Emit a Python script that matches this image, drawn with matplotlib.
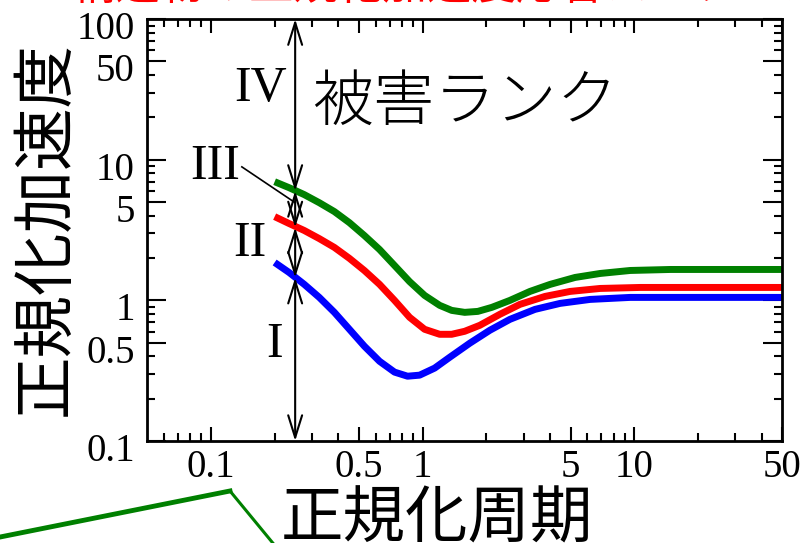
import matplotlib
matplotlib.use("Agg")
import matplotlib.pyplot as plt
from matplotlib.lines import Line2D
from matplotlib.transforms import ScaledTranslation

# normalised period vs normalised acceleration, three damage boundaries
period_green = [0.2, 0.234, 0.276, 0.325, 0.383, 0.451, 0.531, 0.626, 0.737, 0.868, 1.022,
                1.204, 1.372, 1.581, 1.823, 2.123, 2.585, 3.215, 4.0, 5.253, 6.901, 9.57,
                14.81, 25.56, 50]
accel_green = [6.98, 6.33, 5.65, 4.95, 4.28, 3.57, 2.89, 2.30, 1.77, 1.36, 1.085,
               0.922, 0.849, 0.822, 0.835, 0.892, 1.0, 1.158, 1.299, 1.456, 1.554, 1.632,
               1.659, 1.659, 1.659]

period_red = [0.2, 0.234, 0.276, 0.325, 0.383, 0.451, 0.531, 0.626, 0.737, 0.868, 1.022,
              1.204, 1.372, 1.581, 1.863, 2.317, 2.883, 3.786, 4.974, 6.901, 10.68,
              20.55, 50]
accel_red = [3.94, 3.52, 3.14, 2.75, 2.38, 1.99, 1.63, 1.30, 1.0, 0.758, 0.623,
             0.574, 0.574, 0.603, 0.665, 0.796, 0.937, 1.067, 1.158, 1.216, 1.236,
             1.236, 1.236]

period_blue = [0.2, 0.234, 0.276, 0.325, 0.383, 0.451, 0.531, 0.626, 0.737, 0.849, 0.968,
               1.14, 1.343, 1.67, 2.078, 2.585, 3.395, 4.46, 6.186, 9.57, 20.55, 50]
accel_blue = [1.86, 1.58, 1.30, 1.05, 0.822, 0.623, 0.472, 0.369, 0.309, 0.289, 0.294,
              0.330, 0.394, 0.496, 0.613, 0.733, 0.863, 0.952, 1.016, 1.05, 1.05, 1.05]

# rank boundaries along the arrow at period 0.25
arrow_period = 0.25
rank_bounds = [100, 6.0, 3.3, 1.45, 0.1]

x_ticks = [0.1, 0.5, 1, 5, 10, 50]
x_ticklabels = ["0.1", "0.5", "1", "5", "10", "50"]
y_ticks = [0.1, 0.5, 1, 5, 10, 50, 100]
y_ticklabels = ["0.1", "0.5", "1", "5", "10", "50", "100"]

serif = "Liberation Serif"
cjk = ["Noto Sans CJK JP", "DejaVu Sans"]

fig = plt.figure(figsize=(8, 5.43), dpi=100)
ax = fig.add_axes([0.184, 0.1878, 0.7938, 0.777])

ax.plot(period_blue, accel_blue, color="#0000ff", lw=5, solid_capstyle="butt", solid_joinstyle="round")
ax.plot(period_red, accel_red, color="#ff0000", lw=5, solid_capstyle="butt", solid_joinstyle="round")
ax.plot(period_green, accel_green, color="#008000", lw=5, solid_capstyle="butt", solid_joinstyle="round")

ax.set_xscale("log")
ax.set_yscale("log")
ax.set_xlim(0.05, 50)
ax.set_ylim(0.1, 100)

ax.set_xticks(x_ticks)
ax.set_xticklabels(x_ticklabels, fontfamily=serif, fontsize=28)
ax.set_yticks(y_ticks)
ax.set_yticklabels(y_ticklabels, fontfamily=serif, fontsize=28)
ax.xaxis.set_minor_locator(matplotlib.ticker.LogLocator(base=10, subs=(2, 3, 4, 6, 7, 8, 9)))
ax.yaxis.set_minor_locator(matplotlib.ticker.LogLocator(base=10, subs=(2, 3, 4, 6, 7, 8, 9)))
ax.xaxis.set_minor_formatter(matplotlib.ticker.NullFormatter())
ax.yaxis.set_minor_formatter(matplotlib.ticker.NullFormatter())
ax.tick_params(which="both", direction="in", top=True, right=True, width=1.5, color="black")
ax.tick_params(axis="x", which="major", length=10, pad=6)
ax.tick_params(axis="y", which="major", length=13.5, pad=9)
ax.tick_params(which="minor", length=6)
for lab in ax.get_yticklabels():
    lab.set_transform(lab.get_transform() + ScaledTranslation(0, -0.06, fig.dpi_scale_trans))
for s in ax.spines.values():
    s.set_linewidth(2)

# double arrows between the rank boundaries
for top, bot in zip(rank_bounds[:-1], rank_bounds[1:]):
    ax.annotate("", xy=(arrow_period, bot), xytext=(arrow_period, top),
                arrowprops=dict(arrowstyle="<->,head_length=0.8,head_width=0.25",
                                lw=1.5, color="black", shrinkA=0, shrinkB=0,
                                mutation_scale=20))

ax.text(0.172, 32, "IV", fontfamily=serif, fontsize=36, ha="center", va="center")
ax.text(0.138, 8.9, "III", fontfamily=serif, fontsize=36, ha="right", va="center")
ax.plot([0.140, arrow_period], [8.9, 4.95], color="black", lw=1.2)
ax.text(0.153, 2.54, "II", fontfamily=serif, fontsize=36, ha="center", va="center")
ax.text(0.199, 0.48, "I", fontfamily=serif, fontsize=36, ha="center", va="center")
ax.text(1.58, 25.4, "被害ランク", family=cjk, fontsize=44, fontweight="light",
        ha="center", va="center")

fig.text(0.0575, 0.58, "正規化加速度", family=cjk, fontsize=45, rotation=90,
         ha="center", va="center")
fig.text(0.546, 0.044, "正規化周期", family=cjk, fontsize=45, ha="center", va="center")

# pieces of the surrounding figure that fall into the crop
fig.text(0.089, 1.002, "構造物の正規化加速度応答スペクトル", family=cjk, fontsize=32,
         color="#ff0000", ha="left", va="baseline")
fig.add_artist(Line2D([0.0, 0.2875], [0.011, 0.0958], transform=fig.transFigure,
                      color="#008000", lw=3.5))
fig.add_artist(Line2D([0.2875, 0.341], [0.0958, 0.0], transform=fig.transFigure,
                      color="#008000", lw=2.2))

fig.savefig("out.png", dpi=100)
